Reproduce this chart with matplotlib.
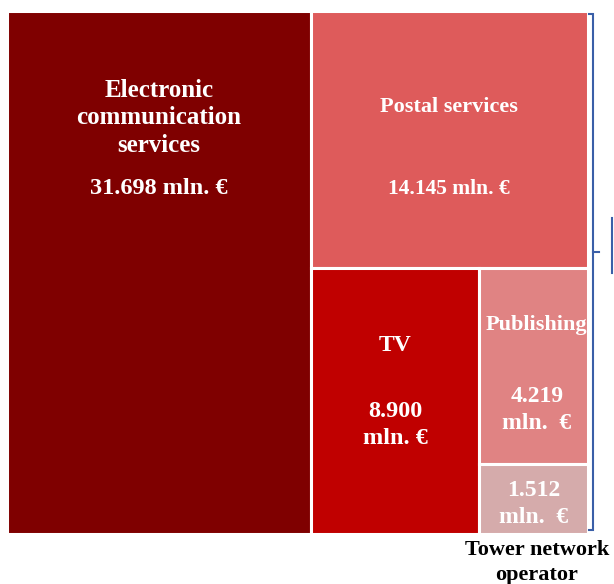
import matplotlib.pyplot as plt
from matplotlib.patches import Rectangle

# market segments (mln. EUR)
names = ['Electronic\ncommunication\nservices', 'Postal services', 'TV', 'Publishing', '']
values = [31698, 14145, 8900, 4219, 1512]
value_labels = ['31.698 mln. €', '14.145 mln. €', '8.900\nmln. €', '4.219\nmln.  €', '1.512\nmln.  €']
colors = ['#7f0000', '#de5b5b', '#c00000', '#e08383', '#d5abab']

plt.rcParams['font.family'] = ['Liberation Serif', 'DejaVu Serif']

W, H = 614, 584
fig = plt.figure(figsize=(W / 100, H / 100), dpi=100)
ax = fig.add_axes([6.5 / W, (H - 534) / H, 581 / W, 523.5 / H])
ax.set_xlim(0, 1)
ax.set_ylim(1, 0)
ax.axis('off')

total = sum(values)
right = total - values[0]
w0 = values[0] / total
h1 = values[1] / right
w2 = values[2] / (values[2] + values[3] + values[4])
h3 = values[3] / (values[3] + values[4])

# x, y (top), width, height
rects = [
    (0, 0, w0, 1),
    (w0, 0, 1 - w0, h1),
    (w0, h1, (1 - w0) * w2, 1 - h1),
    (w0 + (1 - w0) * w2, h1, (1 - w0) * (1 - w2), (1 - h1) * h3),
    (w0 + (1 - w0) * w2, h1 + (1 - h1) * h3, (1 - w0) * (1 - w2), (1 - h1) * (1 - h3)),
]

# label placement inside each box (fraction of box height) and font sizes
title_fy = [0.205, 0.375, 0.292, 0.29, None]
value_fy = [0.34, 0.695, 0.59, 0.725, 0.575]
title_dx = [0, 0, 0, 0.006, 0]
sizes = [18, 16, 17, 16, 16]
vsizes = [17.5, 15.5, 17.5, 17, 17]

for (x, y, w, h), c, n, vl, ty, vy, dx, s, vs in zip(rects, colors, names, value_labels,
                                                      title_fy, value_fy, title_dx, sizes, vsizes):
    ax.add_patch(Rectangle((x, y), w, h, facecolor=c, edgecolor='white', linewidth=2.2))
    if ty is not None:
        ax.text(x + w / 2 + dx, y + h * ty, n, ha='center', va='center', color='white',
                fontsize=s, fontweight='bold', linespacing=1.25)
    ax.text(x + w / 2 + dx, y + h * vy, vl, ha='center', va='center', color='white',
            fontsize=vs, fontweight='bold', linespacing=1.35)

# label under the small box
ax.text(0.913, 1.054, 'Tower network\noperator', ha='center', va='center', fontsize=16,
        fontweight='bold', color='black', linespacing=1.3)

# bracket on the right
bc = '#3a5fa8'
ax.plot([1.0026, 1.0095, 1.0095, 1.0026], [0.0067, 0.0067, 0.9933, 0.9933], color=bc,
        lw=1.5, clip_on=False, solid_joinstyle='miter')
ax.plot([1.0095, 1.0198], [0.461, 0.461], color=bc, lw=1.5, clip_on=False)
ax.plot([1.0421, 1.0421], [0.396, 0.501], color=bc, lw=1.5, clip_on=False)

fig.savefig('out.png', dpi=100)
